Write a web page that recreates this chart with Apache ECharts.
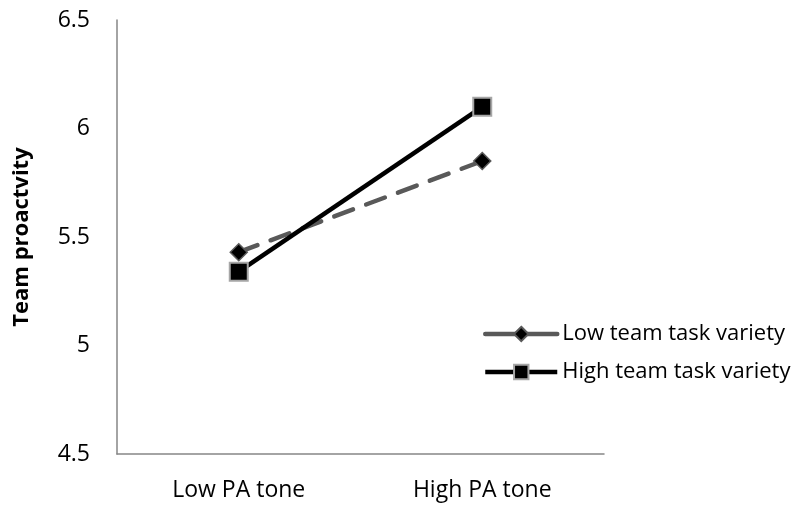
<!DOCTYPE html>
<html>
<head>
<meta charset="utf-8">
<script src="https://cdn.jsdelivr.net/npm/echarts@6/dist/echarts.min.js"></script>
<style>
  html, body { margin: 0; padding: 0; background: #fff; }
  #chart { width: 805px; height: 508px; }
</style>
</head>
<body>
<div id="chart"></div>
<script>
// PA tone categories and the two moderator lines
var categories = ['Low PA tone', 'High PA tone'];
var lowVariety = [5.43, 5.85];
var highVariety = [5.34, 6.10];
var yTicks = {min: 4.5, max: 6.5, step: 0.5};

var font = '"Open Sans", Lato, sans-serif';
var chart = echarts.init(document.getElementById('chart'));

var option = {
    animation: false,
    textStyle: {fontFamily: font},
    grid: {left: 117, right: 201, top: 20, bottom: 54},
    legend: {
        orient: 'vertical',
        left: 478,
        top: 317,
        itemWidth: 72,
        itemHeight: 18,
        itemGap: 14,
        textStyle: {fontSize: 22, lineHeight: 24, color: '#000', fontFamily: font},
        data: [
            {name: 'Low team task variety', lineStyle: {type: 'solid', width: 4.5}},
            {name: 'High team task variety', lineStyle: {width: 4.5}}
        ]
    },
    xAxis: {
        type: 'category',
        data: categories,
        boundaryGap: true,
        axisLine: {lineStyle: {color: '#868686', width: 1.5}},
        axisTick: {show: false},
        axisLabel: {fontSize: 23, color: '#000', margin: 25, fontFamily: font}
    },
    yAxis: {
        type: 'value',
        min: yTicks.min,
        max: yTicks.max,
        interval: yTicks.step,
        name: 'Team proactvity',
        nameLocation: 'middle',
        nameGap: 84,
        nameTextStyle: {fontSize: 22, fontWeight: 'bold', color: '#000', fontFamily: font},
        axisLine: {show: true, lineStyle: {color: '#868686', width: 1.5}},
        axisTick: {show: false},
        splitLine: {show: false},
        axisLabel: {fontSize: 23, color: '#000', margin: 27, fontFamily: font}
    },
    series: [
        {
            name: 'Low team task variety',
            type: 'line',
            data: lowVariety,
            symbol: 'diamond',
            symbolSize: 17,
            z: 3,
            lineStyle: {color: '#595959', width: 4.5, type: [20, 14], cap: 'round'},
            itemStyle: {color: '#000', borderColor: '#595959', borderWidth: 1.5}
        },
        {
            name: 'High team task variety',
            type: 'line',
            data: highVariety,
            symbol: 'rect',
            symbolSize: 18,
            z: 4,
            lineStyle: {color: '#000', width: 4.5},
            itemStyle: {color: '#000', borderColor: '#a6a6a6', borderWidth: 2}
        }
    ]
};

chart.setOption(option);
</script>
</body>
</html>
